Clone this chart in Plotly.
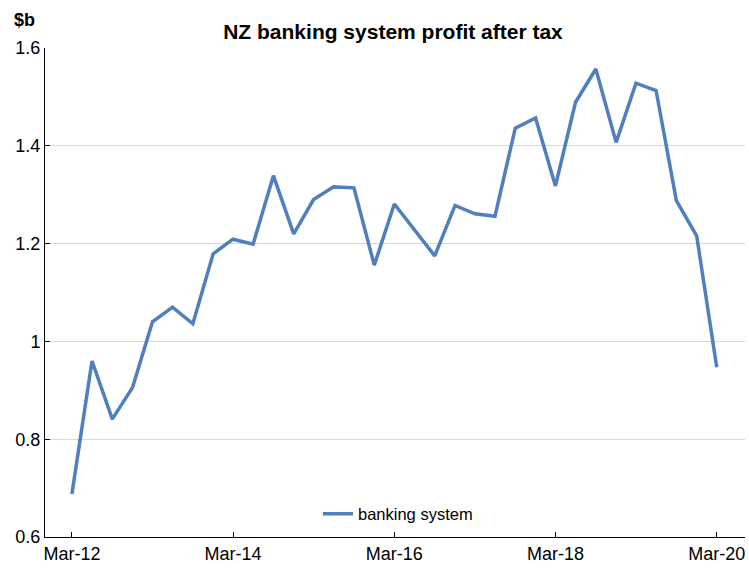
import plotly.graph_objects as go
import pandas as pd

quarters = [d.strftime("%Y-%m-%d") for d in pd.date_range("2012-03-31", periods=33, freq="QE")]
profit = [0.688, 0.960, 0.841, 0.906, 1.040, 1.070, 1.036, 1.179, 1.209, 1.199,
          1.339, 1.220, 1.290, 1.316, 1.314, 1.156, 1.281, 1.228, 1.175, 1.278,
          1.261, 1.256, 1.436, 1.457, 1.318, 1.489, 1.557, 1.407, 1.528, 1.513,
          1.288, 1.216, 0.947]
tick_dates = ["2012-03-31", "2014-03-31", "2016-03-31", "2018-03-31", "2020-03-31"]
tick_labels = ["Mar-12", "Mar-14", "Mar-16", "Mar-18", "Mar-20"]
y_ticks = [0.6, 0.8, 1.0, 1.2, 1.4, 1.6]
y_labels = ["0.6", "0.8", "1", "1.2", "1.4", "1.6"]

FONT = "Liberation Sans, Arial, sans-serif"

fig = go.Figure()
fig.add_trace(go.Scatter(
    x=quarters, y=profit, mode="lines", name="banking system",
    line=dict(color="#4F7FBD", width=3.5),
))

fig.update_layout(
    width=749, height=569,
    margin=dict(l=45, r=4, t=48, b=32),
    paper_bgcolor="white", plot_bgcolor="white",
    font=dict(family=FONT, size=18, color="#000000"),
    title=dict(text="<b>NZ banking system profit after tax</b>", x=393 / 749, xanchor="center",
               y=1 - 32 / 569, yanchor="middle", font=dict(size=21, family=FONT)),
    showlegend=True,
    legend=dict(x=0.39, y=0.047, xanchor="left", yanchor="middle",
                bgcolor="rgba(0,0,0,0)", font=dict(size=16.5, family=FONT),
                itemwidth=30),
    annotations=[dict(text="<b>$b</b>", xref="paper", yref="paper", x=-0.047, y=1.057,
                      xanchor="left", yanchor="middle", showarrow=False,
                      font=dict(size=18, family=FONT))],
)
fig.update_xaxes(
    type="date", range=["2011-11-30", "2020-08-06"],
    tickvals=tick_dates, ticktext=tick_labels,
    ticks="inside", ticklen=5, tickcolor="#000", showgrid=False,
    showline=True, linecolor="#000", linewidth=1, zeroline=False,
    tickfont=dict(size=18),
)
fig.update_yaxes(
    range=[0.6, 1.6], tickvals=y_ticks, ticktext=y_labels,
    ticks="inside", ticklen=5, tickcolor="#000",
    showgrid=True, gridcolor="#D9D9D9", gridwidth=1,
    showline=True, linecolor="#000", linewidth=1, zeroline=False,
    tickfont=dict(size=18),
)
fig.write_html("out.html")
